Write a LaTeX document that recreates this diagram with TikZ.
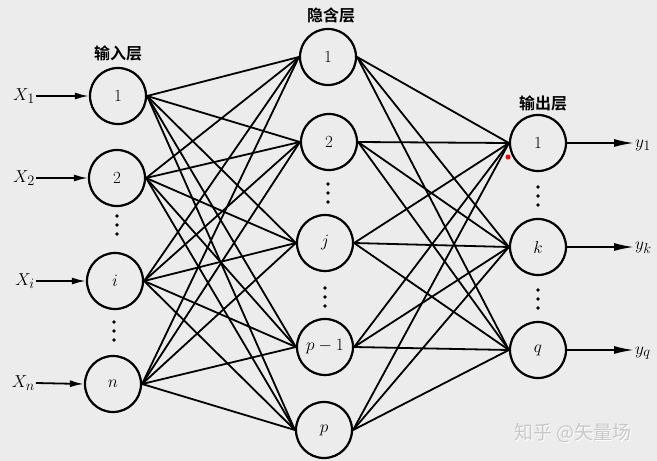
\documentclass[tikz,border=0pt]{standalone}
\usepackage{fontspec}
\newfontfamily\cjk{Noto Sans CJK SC}
\newfontfamily\cjkb{Noto Sans CJK SC Bold}
\usetikzlibrary{arrows.meta}
\definecolor{bg}{RGB}{236,236,236}
\definecolor{wm}{RGB}{200,200,200}
\tikzset{
  neuron/.style={circle,draw,line width=2.2pt,minimum size=56pt,inner sep=0pt,font=\fontsize{17}{20}\selectfont},
  conn/.style={line width=1.8pt},
  inarr/.style={line width=1.8pt,-{Latex[length=14pt,width=7pt]}},
  outarr/.style={line width=1.8pt,-{Latex[length=20pt,width=8pt]}},
  lay/.style={font=\cjkb\fontsize{16}{18}\selectfont},
  vlab/.style={font=\fontsize{19}{21}\selectfont,inner sep=1pt},
  vdot/.style={circle,fill,inner sep=0pt,minimum size=3.6pt}
}
\begin{document}
\begin{tikzpicture}[x=1pt,y=-1pt]
\fill[bg] (0,0) rectangle (657,461);
\useasboundingbox (0,0) rectangle (657,461);
% input layer
\node[neuron] (i1) at (118,96) {1};
\node[neuron] (i2) at (117,178) {2};
\node[neuron] (ii) at (115,281) {$i$};
\node[neuron] (in) at (113,384) {$n$};
% hidden layer
\node[neuron] (h1) at (328,57) {1};
\node[neuron] (h2) at (329,142) {2};
\node[neuron] (hj) at (325,243) {$j$};
\node[neuron] (hq) at (325,347) {$p-1$};
\node[neuron] (hp) at (324,430) {$p$};
% output layer
\node[neuron] (o1) at (538,143) {1};
\node[neuron] (ok) at (538,247) {$k$};
\node[neuron] (oq) at (538,350) {$q$};
% layer titles
\node[lay] (t1) at (118,53) {输入层};
\node[lay] (t2) at (331,15) {隐含层};
\node[lay] (t3) at (543,103) {输出层};
% connections input->hidden
\foreach \a in {i1,i2,ii,in}{
  \foreach \b in {h1,h2,hj,hq,hp}{
    \draw[conn] (\a.east) -- (\b.west);
  }
}
% hidden->output
\foreach \a in {h1,h2,hj,hq,hp}{
  \foreach \b in {o1,ok,oq}{
    \draw[conn] (\a.east) -- (\b.west);
  }
}
% inputs
\node[vlab,anchor=east] (x1) at (36,96) {$X_1$};
\node[vlab,anchor=east] (x2) at (36,178) {$X_2$};
\node[vlab,anchor=east] (xi) at (36,281) {$X_i$};
\node[vlab,anchor=east] (xn) at (36,383) {$X_n$};
\draw[inarr] (x1.east) -- (i1.west);
\draw[inarr] (x2.east) -- (i2.west);
\draw[inarr] (xi.east) -- (ii.west);
\draw[inarr] (xn.east) -- (in.west);
% outputs
\node[vlab,anchor=west] (y1) at (634,145) {$y_1$};
\node[vlab,anchor=west] (yk) at (634,248) {$y_k$};
\node[vlab,anchor=west] (yq) at (634,353) {$y_q$};
\draw[outarr] (o1.east) -- (y1.west |- o1.east);
\draw[outarr] (ok.east) -- (yk.west |- ok.east);
\draw[outarr] (oq.east) -- (yq.west |- oq.east);
% dots
\foreach \x/\y in {117/216, 114/322, 328/184, 325/288, 538/187, 538/290}{
  \foreach \d in {0,9,18}{
    \node[vdot] at (\x,\y+\d) {};
  }
}
% red mark
\fill[red] (508,157) circle (2.5pt);
% watermark
\node[font=\cjk\fontsize{19}{20}\selectfont,text=white] at (574,434) {知乎 @矢量场};
\node[font=\cjk\fontsize{19}{20}\selectfont,text=wm] (wmk) at (573,433) {知乎 @矢量场};
\end{tikzpicture}
\end{document}
